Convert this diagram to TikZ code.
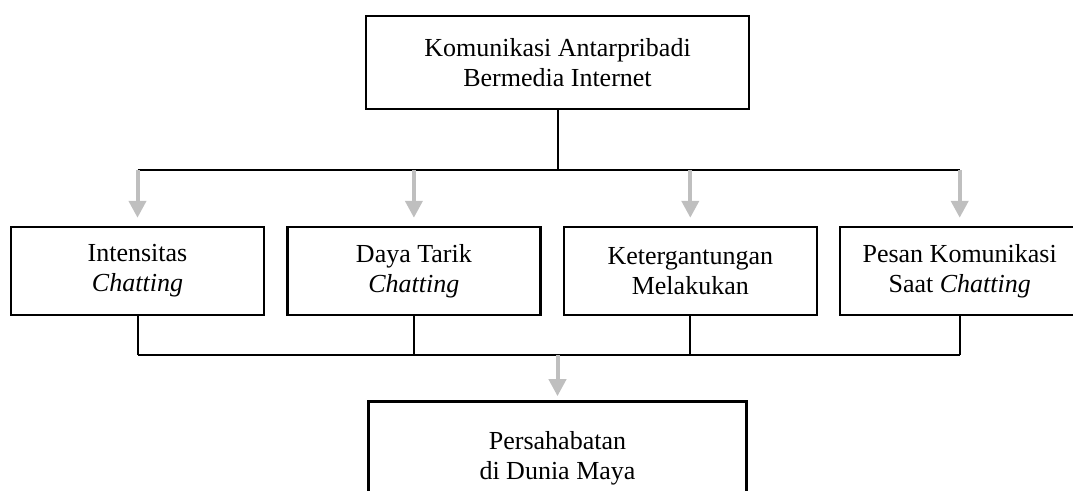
\documentclass[tikz,border=0pt]{standalone}
\usepackage{fontspec}
\setmainfont{Liberation Serif}
\usepackage{tikz}
\usetikzlibrary{positioning, arrows.meta}

\definecolor{arrowgray}{RGB}{191,191,191}

\begin{document}
\begin{tikzpicture}[
    font=\fontsize{13pt}{15pt}\selectfont,
    box/.style={draw, line width=1.2pt, minimum width=126.5pt, minimum height=44pt, align=center, fill=white, inner sep=2pt},
    link/.style={line width=1pt},
    arrow/.style={draw=arrowgray, line width=2pt, -{Triangle[width=8.5pt, length=8.5pt]}, arrowgray}
]
\useasboundingbox (0,0) rectangle (536.5pt,-245.5pt);

% Top node
\node[box, minimum width=191.5pt, minimum height=46.5pt] (media) at (278.75pt,-31.25pt) {Komunikasi Antarpribadi\\Bermedia Internet};

% Factors
\node[box] (intens) at (68.75pt,-135.5pt) {Intensitas\\\textit{Chatting}};
\node[box, right=10.5pt of intens] (daya) {Daya Tarik\\\textit{Chatting}};
\node[box, right=10.5pt of daya] (ketergant) {Ketergantungan\\Melakukan};
\node[box, minimum width=119.5pt, right=10.5pt of ketergant] (pesan) {Pesan Komunikasi\\Saat \textit{Chatting}};

% Split and join points
\coordinate[below=30pt of media] (split);
\coordinate[below=19.5pt of intens] (join);
\coordinate (merge) at (join -| media);

% Result
\node[box, minimum width=189pt, minimum height=57pt, below=22.5pt of merge] (sahabat) {Persahabatan\\di Dunia Maya};

% Arrows
\draw[link] (media) -- (split);
\draw[link] (split -| intens) -- (split -| pesan);
\draw[arrow, shorten >=4pt] (split -| intens) -- (intens);
\draw[arrow, shorten >=4pt] (split -| daya) -- (daya);
\draw[arrow, shorten >=4pt] (split -| ketergant) -- (ketergant);
\draw[arrow, shorten >=4pt] (split -| pesan) -- (pesan);

\draw[link] (intens) -- (join);
\draw[link] (daya) -- (join -| daya);
\draw[link] (ketergant) -- (join -| ketergant);
\draw[link] (pesan) -- (join -| pesan);
\draw[link] (join) -- (join -| pesan);
\draw[arrow, shorten >=2pt] (merge) -- (sahabat);

\end{tikzpicture}
\end{document}
